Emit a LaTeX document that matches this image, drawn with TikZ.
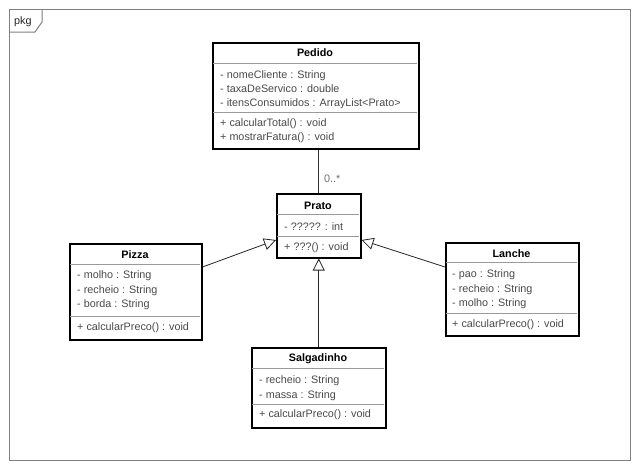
\documentclass[tikz,border=0pt]{standalone}
\usepackage{fontspec}
\setmainfont{Liberation Sans}
\usetikzlibrary{arrows.meta}
\definecolor{txt}{HTML}{4A4A4A}
\definecolor{multc}{HTML}{707070}
\definecolor{sepc}{HTML}{9A9A9A}
\definecolor{framec}{HTML}{808080}
\tikzset{
 classbox/.style={draw=black, line width=1.5pt, fill=white, anchor=north west, inner sep=0pt},
 sepline/.style={draw=sepc, line width=1pt},
 ctitle/.style={font=\fontsize{10.8}{12}\selectfont\bfseries, text=black, anchor=base, inner sep=0pt},
 member/.style={font=\fontsize{10.8}{12}\selectfont, text=txt, anchor=base west, inner sep=0pt},
 assoc/.style={draw=black!80, line width=0.8pt},
 gen/.style={draw=black!85, line width=0.8pt, -{Triangle[open, length=12pt, width=12pt, fill=white]}},
 framestyle/.style={draw=framec, line width=1pt},
}
\begin{document}
\begin{tikzpicture}[x=1pt,y=-1pt]
\useasboundingbox (0,0) rectangle (640,469);
\fill[white] (0,0) rectangle (640,469);
% frame
\draw[framestyle] (9,9) rectangle (630,460);
\draw[framestyle] (9,32) -- (35,32) -- (42,22) -- (42,9);
\node[member, text=black!85] (pkg) at (14,24) {pkg};

% Pedido
\node[classbox, minimum width=206pt, minimum height=106pt] (pedido) at (212,42) {};
\draw[sepline] (212.75,63) -- (417.25,63);
\draw[sepline] (212.75,112) -- (417.25,112);
\node[ctitle] (pedido-t) at (315,56) {Pedido};
\node[member] (pedido-a1) at (220,78) {- nomeCliente : String};
\node[member] (pedido-a2) at (220,92) {- taxaDeServico : double};
\node[member] (pedido-a3) at (220,106) {- itensConsumidos : ArrayList<Prato>};
\node[member] (pedido-o1) at (220,126) {+ calcularTotal() : void};
\node[member] (pedido-o2) at (220,140) {+ mostrarFatura() : void};

% Prato
\node[classbox, minimum width=84pt, minimum height=64pt] (prato) at (276,193) {};
\draw[sepline] (276.75,214) -- (359.25,214);
\draw[sepline] (276.75,236) -- (359.25,236);
\node[ctitle] (prato-t) at (318,209) {Prato};
\node[member] (prato-a1) at (284,230) {- ????? : int};
\node[member] (prato-o1) at (284,250) {+ ???() : void};

% Pizza
\node[classbox, minimum width=132pt, minimum height=96pt] (pizza) at (69,243) {};
\draw[sepline] (69.75,264) -- (200.25,264);
\draw[sepline] (69.75,316) -- (200.25,316);
\node[ctitle] (pizza-t) at (135,258) {Pizza};
\node[member] (pizza-a1) at (77,278) {- molho : String};
\node[member] (pizza-a2) at (77,293) {- recheio : String};
\node[member] (pizza-a3) at (77,307) {- borda : String};
\node[member] (pizza-o1) at (77,330) {+ calcularPreco() : void};

% Lanche
\node[classbox, minimum width=133pt, minimum height=93pt] (lanche) at (445,242) {};
\draw[sepline] (445.75,262) -- (577.25,262);
\draw[sepline] (445.75,313) -- (577.25,313);
\node[ctitle] (lanche-t) at (511.5,257) {Lanche};
\node[member] (lanche-a1) at (452,277) {- pao : String};
\node[member] (lanche-a2) at (452,292) {- recheio : String};
\node[member] (lanche-a3) at (452,306) {- molho : String};
\node[member] (lanche-o1) at (452,327) {+ calcularPreco() : void};

% Salgadinho
\node[classbox, minimum width=134pt, minimum height=80pt] (salg) at (251,347) {};
\draw[sepline] (251.75,368) -- (384.25,368);
\draw[sepline] (251.75,404) -- (384.25,404);
\node[ctitle] (salg-t) at (318,361) {Salgadinho};
\node[member] (salg-a1) at (259,383) {- recheio : String};
\node[member] (salg-a2) at (259,398) {- massa : String};
\node[member] (salg-o1) at (259,417) {+ calcularPreco() : void};

% connectors
\draw[assoc] (prato.north) -- (prato.north |- pedido.south);
\node[member, text=multc] (mult) at (324,182) {0..*};
\draw[gen] ([yshift=-24pt]pizza.north east) -- ([yshift=-47pt]prato.north west);
\draw[gen] ([yshift=-25pt]lanche.north west) -- ([yshift=-47pt]prato.north east);
\draw[gen] (salg.north) -- (salg.north |- prato.south);
\end{tikzpicture}
\end{document}
